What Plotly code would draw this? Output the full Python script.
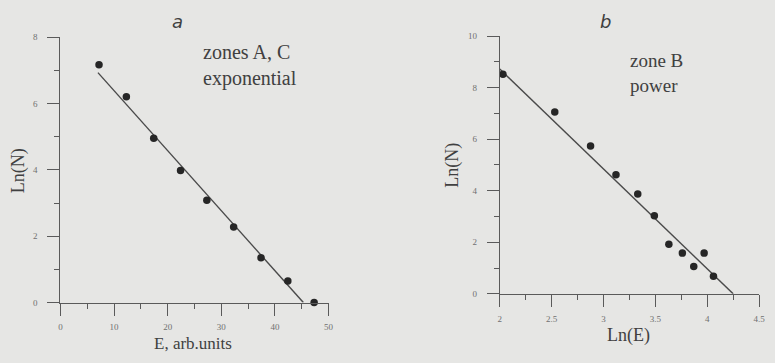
import plotly.graph_objects as go

# ---- data: panel a (zones A, C, exponential) ----
a_E = [7.2, 12.3, 17.4, 22.4, 27.3, 32.3, 37.4, 42.4, 47.3]
a_lnN = [7.17, 6.2, 4.95, 3.98, 3.08, 2.28, 1.35, 0.65, 0.0]
a_fit_E = [7.0, 45.3]
a_fit_lnN = [6.93, 0.0]

# ---- data: panel b (zone B, power) ----
b_lnE = [2.03, 2.53, 2.875, 3.12, 3.33, 3.49, 3.63, 3.76, 3.87, 3.97, 4.06]
b_lnN = [8.52, 7.06, 5.74, 4.62, 3.87, 3.03, 1.92, 1.58, 1.06, 1.58, 0.68]
b_fit_lnE = [2.0, 4.25]
b_fit_lnN = [8.72, 0.0]

a_xticks = [0, 10, 20, 30, 40, 50]
a_yticks = [0, 2, 4, 6, 8]
b_xticks = [2, 2.5, 3, 3.5, 4, 4.5]
b_xticklabels = ["2", "2.5", "3", "3.5", "4", "4.5"]
b_yticks = [0, 2, 4, 6, 8, 10]

W, H = 775, 363
BG = "#e6e6e4"
AX = "#5a5a5a"
TXT = "#404040"
SERIF = "Liberation Serif, Times New Roman, serif"


def px(x):
    return x / W


def py(y):
    return 1 - y / H


fig = go.Figure()

fig.add_trace(go.Scatter(x=a_fit_E, y=a_fit_lnN, mode="lines",
                         line=dict(color="#4a4a4a", width=1.4),
                         xaxis="x", yaxis="y", showlegend=False))
fig.add_trace(go.Scatter(x=a_E, y=a_lnN, mode="markers",
                         marker=dict(color="#262626", size=7.5),
                         xaxis="x", yaxis="y", showlegend=False, cliponaxis=False))
fig.add_trace(go.Scatter(x=b_fit_lnE, y=b_fit_lnN, mode="lines",
                         line=dict(color="#4a4a4a", width=1.4),
                         xaxis="x2", yaxis="y2", showlegend=False))
fig.add_trace(go.Scatter(x=b_lnE, y=b_lnN, mode="markers",
                         marker=dict(color="#262626", size=7.5),
                         xaxis="x2", yaxis="y2", showlegend=False, cliponaxis=False))

tickfont = dict(family=SERIF, size=9, color="#707070")


def axis(domain, rng, tickvals, ticktext, minor_dtick, anchor, standoff=4):
    return dict(
        domain=domain, range=rng, anchor=anchor,
        tickmode="array", tickvals=tickvals, ticktext=ticktext,
        ticks="outside", ticklen=12, tickwidth=1, tickcolor=AX,
        minor=dict(dtick=minor_dtick, ticks="outside", ticklen=5,
                   tickwidth=1, tickcolor=AX, showgrid=False),
        showline=True, linecolor=AX, linewidth=1.2,
        showgrid=False, zeroline=False, tickfont=tickfont,
        ticklabelstandoff=standoff, fixedrange=True,
    )


fig.update_layout(
    width=W, height=H,
    margin=dict(l=0, r=0, t=0, b=0),
    paper_bgcolor=BG, plot_bgcolor=BG,
    xaxis=axis([px(59), px(330)], [0, 50], a_xticks,
               [str(v) for v in a_xticks], 5, "y"),
    yaxis=axis([py(306), py(33)], [0, 8], a_yticks,
               [str(v) for v in a_yticks], 1, "x", standoff=8),
    xaxis2=axis([px(503), px(765)], [2, 4.5], b_xticks,
                b_xticklabels, 0.25, "y2"),
    yaxis2=axis([py(297), py(32)], [0, 10], b_yticks,
                [str(v) for v in b_yticks], 1, "x2", standoff=8),
)

anns = [
    dict(text="<i>a</i>", x=px(177), y=py(17), size=18, fam="DejaVu Sans, sans-serif"),
    dict(text="<i>b</i>", x=px(610), y=py(17), size=18, fam="DejaVu Sans, sans-serif"),
    dict(text="Ln(N)", x=px(16), y=py(170), size=18, angle=-90),
    dict(text="Ln(N)", x=px(455), y=py(165), size=18, angle=-90),
    dict(text="E, arb.units", x=px(193), y=py(348), size=17),
    dict(text="Ln(E)", x=px(633), y=py(340), size=18),
    dict(text="zones A, C<br>exponential", x=px(201), y=py(62), size=20,
         xanchor="left"),
    dict(text="zone B<br>power", x=px(633), y=py(70), size=19, xanchor="left"),
]
for a in anns:
    fig.add_annotation(
        text=a["text"], x=a["x"], y=a["y"], xref="paper", yref="paper",
        showarrow=False, textangle=a.get("angle", 0),
        xanchor=a.get("xanchor", "center"), yanchor="middle",
        align="left",
        font=dict(family=a.get("fam", SERIF), size=a["size"], color=TXT),
    )

fig.write_html("out.html")
